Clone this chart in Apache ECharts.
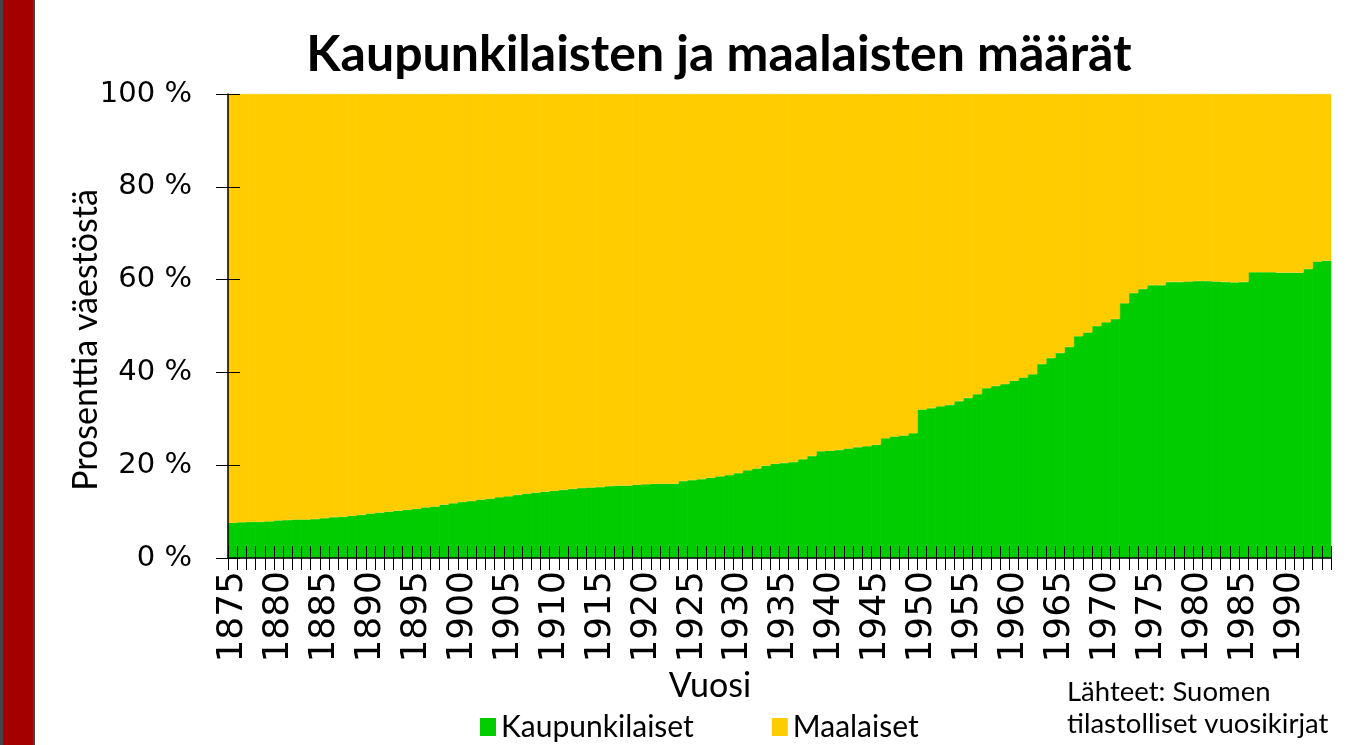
<!DOCTYPE html>
<html>
<head>
<meta charset="utf-8">
<script src="https://cdn.jsdelivr.net/npm/echarts@6/dist/echarts.min.js"></script>
<style>html,body{margin:0;padding:0;background:#fff;}#c{width:1355px;height:745px;}</style>
</head>
<body>
<div id="c"></div>
<script>
const years = ['1875','1876','1877','1878','1879','1880','1881','1882','1883','1884',
'1885','1886','1887','1888','1889','1890','1891','1892','1893','1894',
'1895','1896','1897','1898','1899','1900','1901','1902','1903','1904',
'1905','1906','1907','1908','1909','1910','1911','1912','1913','1914',
'1915','1916','1917','1918','1919','1920','1921','1922','1923','1924',
'1925','1926','1927','1928','1929','1930','1931','1932','1933','1934',
'1935','1936','1937','1938','1939','1940','1941','1942','1943','1944',
'1945','1946','1947','1948','1949','1950','1951','1952','1953','1954',
'1955','1956','1957','1958','1959','1960','1961','1962','1963','1964',
'1965','1966','1967','1968','1969','1970','1971','1972','1973','1974',
'1975','1976','1977','1978','1979','1980','1981','1982','1983','1984',
'1985','1986','1987','1988','1989','1990','1991','1992','1993','1994'];

const urban = [7.6,7.7,7.8,7.8,7.9,8.1,8.2,8.3,8.3,8.4,
8.6,8.8,8.9,9.1,9.3,9.6,9.8,10.0,10.2,10.4,
10.6,10.9,11.1,11.5,11.8,12.1,12.3,12.6,12.8,13.1,
13.3,13.6,13.9,14.1,14.3,14.5,14.7,14.9,15.1,15.2,
15.3,15.5,15.6,15.6,15.8,15.9,16.0,16.0,16.0,16.6,
16.8,17.0,17.3,17.6,17.9,18.3,18.9,19.3,19.9,20.3,
20.5,20.7,21.3,22.0,23.0,23.1,23.3,23.6,23.9,24.1,
24.4,25.8,26.2,26.4,26.9,32.0,32.3,32.7,33.0,33.8,
34.5,35.3,36.6,37.1,37.5,38.2,38.9,39.6,41.8,43.1,
44.2,45.5,47.8,48.6,50.0,50.8,51.5,54.9,57.1,58.0,
58.8,58.8,59.5,59.5,59.6,59.7,59.7,59.6,59.5,59.4,
59.5,61.6,61.6,61.6,61.5,61.5,61.5,62.3,63.9,64.1];

const rural = [92.4,92.3,92.2,92.2,92.1,91.9,91.8,91.7,91.7,91.6,
91.4,91.2,91.1,90.9,90.7,90.4,90.2,90.0,89.8,89.6,
89.4,89.1,88.9,88.5,88.2,87.9,87.7,87.4,87.2,86.9,
86.7,86.4,86.1,85.9,85.7,85.5,85.3,85.1,84.9,84.8,
84.7,84.5,84.4,84.4,84.2,84.1,84.0,84.0,84.0,83.4,
83.2,83.0,82.7,82.4,82.1,81.7,81.1,80.7,80.1,79.7,
79.5,79.3,78.7,78.0,77.0,76.9,76.7,76.4,76.1,75.9,
75.6,74.2,73.8,73.6,73.1,68.0,67.7,67.3,67.0,66.2,
65.5,64.7,63.4,62.9,62.5,61.8,61.1,60.4,58.2,56.9,
55.8,54.5,52.2,51.4,50.0,49.2,48.5,45.1,42.9,42.0,
41.2,41.2,40.5,40.5,40.4,40.3,40.3,40.4,40.5,40.6,
40.5,38.4,38.4,38.4,38.5,38.5,38.5,37.7,36.1,35.9];

const seriesNames = ['Kaupunkilaiset', 'Maalaiset'];
const titleText = 'Kaupunkilaisten ja maalaisten määrät';
const yTitle = 'Prosenttia väestöstä';
const xTitle = 'Vuosi';
const sourceLines = ['Lähteet: Suomen', 'tilastolliset vuosikirjat'];

const GREEN = '#00CC00', YELLOW = '#FFCC00';
const TXT = 'Lato, "Open Sans", sans-serif';

const chart = echarts.init(document.getElementById('c'), null, {renderer: 'canvas'});
chart.setOption({
  animation: false,
  backgroundColor: '#fff',
  title: {
    text: titleText, left: 714, top: 25, textAlign: 'center',
    textStyle: {fontFamily: TXT, fontWeight: 'bold', fontSize: 50, color: '#000'}
  },
  grid: {left: 228, right: 24, top: 94, bottom: 187, containLabel: false},
  legend: {
    data: seriesNames, left: 475, top: 707, icon: 'rect', itemWidth: 16, itemHeight: 18,
    itemGap: 78, textStyle: {fontFamily: TXT, fontSize: 30, color: '#000'}, selectedMode: false,
    itemStyle: {borderWidth: 0}
  },
  xAxis: [{
    type: 'category', data: years, position: 'bottom', z: 3,
    axisLine: {lineStyle: {color: '#000', width: 1.5}},
    axisTick: {show: true, interval: 0, length: 12, lineStyle: {color: '#000', width: 1}},
    axisLabel: {interval: 4, rotate: 90, fontFamily: 'DejaVu Sans', fontSize: 36, color: '#000', margin: 13},
    splitLine: {show: false}, splitArea: {show: false}
  }, {
    type: 'category', data: years, position: 'bottom', z: 3,
    axisLine: {show: false},
    axisTick: {show: true, inside: true, interval: 0, length: 12, lineStyle: {color: '#000', width: 1}},
    axisLabel: {show: false},
    splitLine: {show: false}, splitArea: {show: false}
  }],
  yAxis: [{
    type: 'value', min: 0, max: 100, interval: 20, position: 'left', z: 3,
    axisLine: {show: true, lineStyle: {color: '#000', width: 1.5}},
    axisTick: {show: true, length: 12, lineStyle: {color: '#000', width: 1}},
    axisLabel: {formatter: '{value} %', fontFamily: 'DejaVu Sans', fontSize: 29, color: '#000', margin: 36},
    splitLine: {show: false}
  }, {
    type: 'value', min: 0, max: 100, interval: 20, position: 'left', z: 3,
    axisLine: {show: false},
    axisTick: {show: true, inside: true, length: 12, lineStyle: {color: '#000', width: 1}},
    axisLabel: {show: false}, splitLine: {show: false}
  }],
  series: [{
    name: seriesNames[0], type: 'bar', stack: 'all', data: urban,
    xAxisIndex: 0, yAxisIndex: 0, barWidth: '110%',
    itemStyle: {color: GREEN, borderColor: GREEN, borderWidth: 0.6}
  }, {
    name: seriesNames[1], type: 'bar', stack: 'all', data: rural,
    xAxisIndex: 0, yAxisIndex: 0, barWidth: '110%',
    itemStyle: {color: YELLOW, borderColor: YELLOW, borderWidth: 0.6}
  }],
  graphic: [
    {type: 'rect', shape: {x: 0, y: 0, width: 35, height: 745}, style: {fill: '#444'}, z: 10},
    {type: 'rect', shape: {x: 3, y: 0, width: 30, height: 745}, style: {fill: '#A50000'}, z: 11},
    {type: 'text', x: 86, y: 340, rotation: Math.PI / 2, z: 10,
     style: {text: yTitle, fontFamily: TXT, fontSize: 34, fill: '#000', textAlign: 'center', textVerticalAlign: 'middle'}},
    {type: 'text', x: 710, y: 686, z: 10,
     style: {text: xTitle, fontFamily: TXT, fontSize: 34, fill: '#000', textAlign: 'center', textVerticalAlign: 'middle'}},
    {type: 'text', x: 1067, y: 692, z: 10,
     style: {text: sourceLines[0], fontFamily: TXT, fontSize: 27.5, fill: '#000', textAlign: 'left', textVerticalAlign: 'middle'}},
    {type: 'text', x: 1067, y: 724, z: 10,
     style: {text: sourceLines[1], fontFamily: TXT, fontSize: 27.5, fill: '#000', textAlign: 'left', textVerticalAlign: 'middle'}}
  ]
});
</script>
</body>
</html>
